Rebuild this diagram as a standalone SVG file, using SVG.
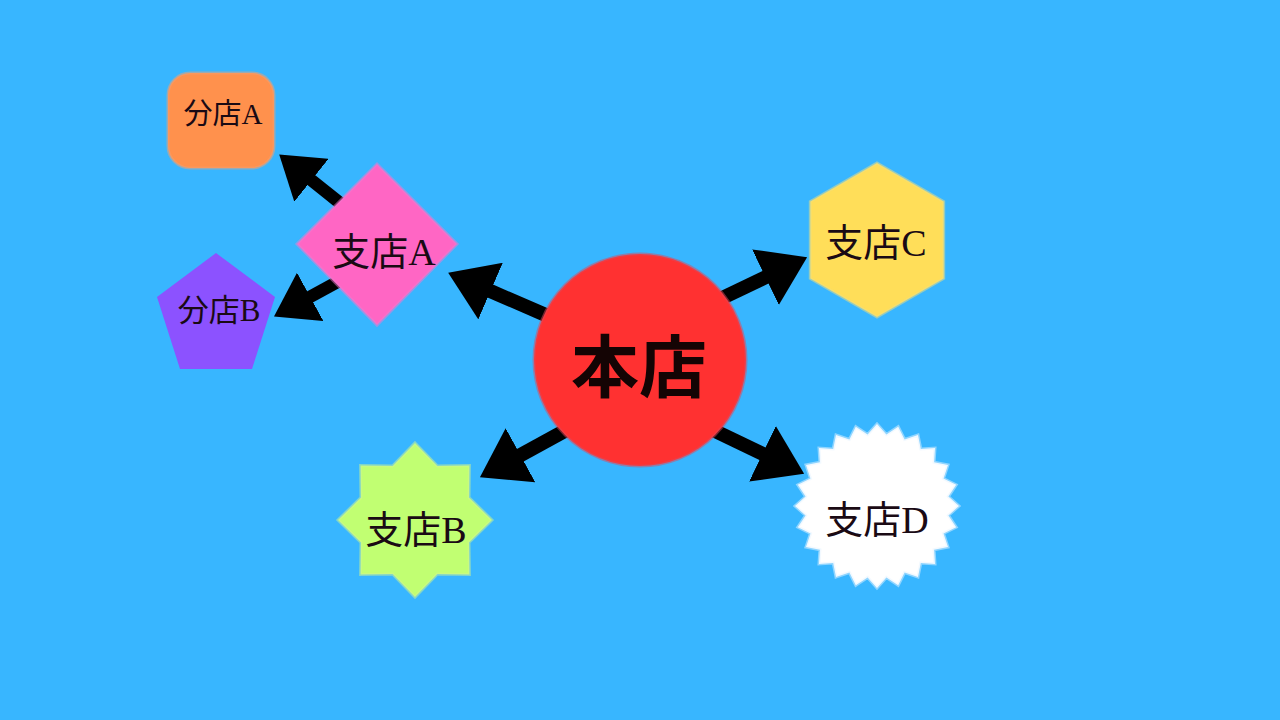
<svg xmlns="http://www.w3.org/2000/svg" width="1280" height="720" viewBox="0 0 1280 720">
<defs>
<style>
.lbl{font-family:"Liberation Serif","Noto Sans CJK JP",serif;fill:#1a0a14;text-anchor:middle;dominant-baseline:central}
.main{font-family:"Noto Sans CJK JP","Noto Sans CJK SC",sans-serif;font-weight:bold;fill:#140404;text-anchor:middle;dominant-baseline:central;font-size:68px}
.conn{stroke:#000;fill:none;stroke-linecap:butt;marker-end:url(#head)}
.edge{stroke-width:3;stroke-opacity:0.5}
</style>
<marker id="head" viewBox="0 0 33 44" markerWidth="3.3" markerHeight="4.4" refX="2" refY="22" orient="auto" markerUnits="strokeWidth">
<path d="M0,0 L33,22 L0,44 Z" fill="#000"/>
</marker>
</defs>
<rect width="1280" height="720" fill="#38b6ff"/>
<g id="connectors">
<line class="conn" x1="548" y1="316" x2="488" y2="290" stroke-width="14"/>
<line class="conn" x1="570" y1="428" x2="518" y2="456.5" stroke-width="14"/>
<line class="conn" x1="718" y1="300" x2="768" y2="276" stroke-width="14"/>
<line class="conn" x1="713" y1="430" x2="765" y2="455" stroke-width="14"/>
<line class="conn" x1="350" y1="211" x2="309.5" y2="178.7" stroke-width="12.5"/>
<line class="conn" x1="352" y1="274" x2="308" y2="298" stroke-width="12.5"/>
</g>
<g id="honten">
<circle cx="640" cy="360" r="106" fill="#ff3131" stroke="#e0485a" class="edge"/>
<text class="main" x="639" y="362">本店</text>
</g>
<g id="shitenA">
<polygon points="377,164 457,244 377,325 297,244" fill="#ff66c4" stroke="#f07ad0" class="edge"/>
<text class="lbl" x="384" y="252" font-size="38">支店A</text>
</g>
<g id="buntenA">
<rect x="168" y="73" width="106" height="95" rx="22" fill="#ff914d" stroke="#f5a070" class="edge"/>
<text class="lbl" x="223" y="114" font-size="29">分店A</text>
</g>
<g id="buntenB">
<polygon points="216,253 275,297 252,369 180,369 157,297" fill="#8c52ff"/>
<text class="lbl" x="219" y="310" font-size="31">分店B</text>
</g>
<g id="shitenB">
<polygon points="415,443 437.4,466 469.4,465.6 469,497.6 492,520 469,542.4 469.4,574.4 437.4,574 415,597 392.6,574 360.6,574.4 361,542.4 338,520 361,497.6 360.6,465.6 392.6,466" fill="#c1ff72" stroke="#d0f590" class="edge"/>
<text class="lbl" x="416" y="530" font-size="38">支店B</text>
</g>
<g id="shitenC">
<polygon points="877,163 943.7,201.5 943.7,278.5 877,317 810.3,278.5 810.3,201.5" fill="#ffde59" stroke="#f0e080" class="edge"/>
<text class="lbl" x="876" y="243" font-size="38">支店C</text>
</g>
<g id="shitenD">
<polygon points="877,424 886.4,434.6 898.2,426.8 904.6,439.5 918,435 920.8,448.9 935,448 934.1,462.2 948,465 943.5,478.5 956.2,484.8 948.4,496.6 959,506 948.4,515.4 956.2,527.2 943.5,533.5 948,547 934.1,549.8 935,564 920.8,563.1 918,577 904.6,572.5 898.2,585.2 886.4,577.4 877,588 867.6,577.4 855.8,585.2 849.4,572.5 836,577 833.2,563.1 819,564 819.9,549.8 806,547 810.5,533.5 797.8,527.2 805.6,515.4 795,506 805.6,496.6 797.8,484.8 810.5,478.5 806,465 819.9,462.2 819,448 833.2,448.9 836,435 849.4,439.5 855.8,426.8 867.6,434.6" fill="#ffffff" stroke="#e6f4ff" class="edge"/>
<text class="lbl" x="877" y="520" font-size="38">支店D</text>
</g>
</svg>
